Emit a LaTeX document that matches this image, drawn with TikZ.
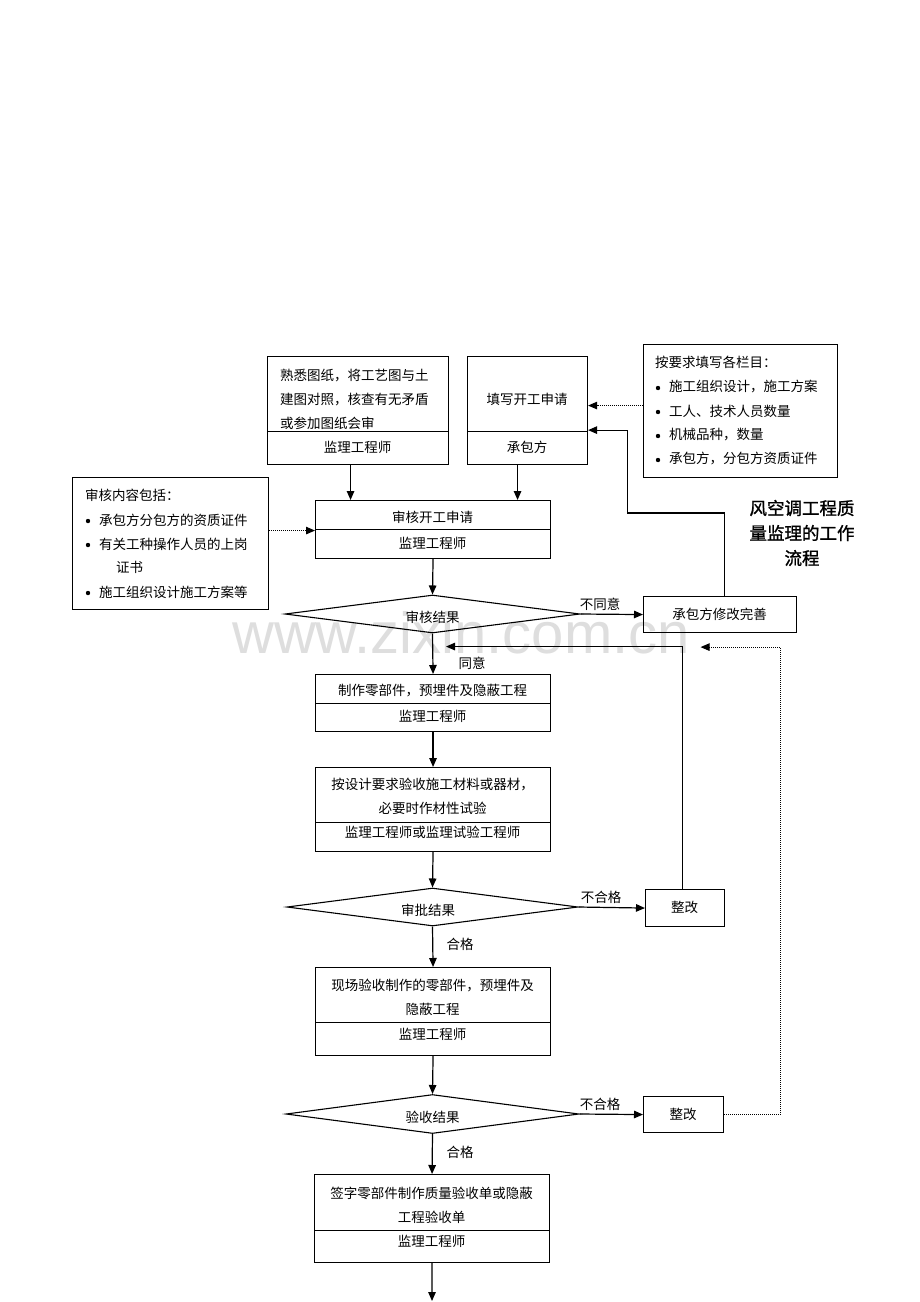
\documentclass[tikz,border=0pt]{standalone}
\usepackage{fontspec}
\setmainfont{Noto Sans CJK SC}
\newfontfamily\titlefont[FakeBold=1.2]{Noto Sans CJK SC}
\newfontfamily\wmfont{Liberation Sans}
\usetikzlibrary{arrows.meta,shapes.geometric}
\begin{document}
\begin{tikzpicture}[x=1pt,y=-1pt,
  box/.style={draw, line width=1.1pt, inner sep=0pt, anchor=north west},
  txt/.style={font=\fontsize{13.5}{24}\selectfont, inner sep=0pt},
  dec/.style={diamond, draw, line width=1.1pt, inner sep=0pt},
  arr/.style={line width=1.2pt, -{Triangle[length=9pt,width=7.5pt]}},
  dotarr/.style={line width=1pt, densely dotted, -{Triangle[length=9pt,width=7.5pt]}},
  bul/.style={fill, circle, inner sep=0pt, minimum size=4.4pt}]
\useasboundingbox (0,0) rectangle (920,1302);
\fill[white] (0,0) rectangle (920,1302);
% watermark
\node[text=black!13, font=\wmfont\fontsize{58}{58}\selectfont, inner sep=0pt] (wm) at (461,633) {www.zixin.com.cn};

% top boxes
\node[box, minimum width=181pt, minimum height=75pt] (b1) at (267,356) {};
\node[box, minimum width=181pt, minimum height=33pt] (b1s) at (267,431) {};
\node[txt, align=left, anchor=west] (b1t) at (280,399) {熟悉图纸，将工艺图与土\\建图对照，核查有无矛盾\\或参加图纸会审};
\node[txt] (b1l) at (357.5,447) {监理工程师};

\node[box, minimum width=120pt, minimum height=75pt] (b2) at (467,356) {};
\node[box, minimum width=120pt, minimum height=33pt] (b2s) at (467,431) {};
\node[txt] (b2t) at (527,399) {填写开工申请};
\node[txt] (b2l) at (527,447) {承包方};

% right note box
\node[box, minimum width=194pt, minimum height=133pt] (rb) at (643,344) {};
\node[txt, anchor=west] (rb0) at (655,362) {按要求填写各栏目：};
\node[bul] (rbb1) at (658,388) {};
\node[txt, anchor=west] (rb1) at (669,387) {施工组织设计，施工方案};
\node[bul] (rbb2) at (658,412) {};
\node[txt, anchor=west] (rb2) at (669,411) {工人、技术人员数量};
\node[bul] (rbb3) at (658,436) {};
\node[txt, anchor=west] (rb3) at (669,435) {机械品种，数量};
\node[bul] (rbb4) at (658,460) {};
\node[txt, anchor=west] (rb4) at (669,459) {承包方，分包方资质证件};

% left note box
\node[box, minimum width=196pt, minimum height=132pt] (lb) at (72,477) {};
\node[txt, anchor=west] (lb0) at (85,495) {审核内容包括：};
\node[bul] (lbb1) at (88,521) {};
\node[txt, anchor=west] (lb1) at (99,520) {承包方分包方的资质证件};
\node[bul] (lbb2) at (88,545) {};
\node[txt, anchor=west] (lb2) at (99,544) {有关工种操作人员的上岗};
\node[txt, anchor=west] (lb2b) at (116,567) {证书};
\node[bul] (lbb3) at (88,593) {};
\node[txt, anchor=west] (lb3) at (99,592) {施工组织设计施工方案等};

% title
\node[font=\titlefont\fontsize{17.5}{25}\selectfont, align=center, inner sep=0pt] (title) at (802,533) {风空调工程质\\量监理的工作\\流程};

% c1
\node[box, minimum width=235pt, minimum height=29pt] (c1) at (315,500) {};
\node[box, minimum width=235pt, minimum height=29pt] (c1s) at (315,529) {};
\node[txt] (c1t) at (432.5,517) {审核开工申请};
\node[txt] (c1l) at (432.5,543) {监理工程师};

% d1
\node[dec, minimum width=295pt, minimum height=38pt] (d1) at (432.5,614) {};
\node[txt] (d1t) at (432.5,617) {审核结果};
\node[box, minimum width=153pt, minimum height=36pt] (m1) at (643,596) {};
\node[txt] (m1t) at (719.5,614) {承包方修改完善};
\node[txt] (l1) at (600,604) {不同意};
\node[txt] (l2) at (472,663) {同意};

% c2
\node[box, minimum width=235pt, minimum height=29pt] (c2) at (315,674) {};
\node[box, minimum width=235pt, minimum height=28pt] (c2s) at (315,703) {};
\node[txt] (c2t) at (432.5,691) {制作零部件，预埋件及隐蔽工程};
\node[txt] (c2l) at (432.5,716) {监理工程师};

% c3
\node[box, minimum width=235pt, minimum height=55pt] (c3) at (315,767) {};
\node[box, minimum width=235pt, minimum height=29pt] (c3s) at (315,822) {};
\node[txt, align=center] (c3t) at (432.5,796) {按设计要求验收施工材料或器材，\\必要时作材性试验};
\node[txt] (c3l) at (432.5,832) {监理工程师或监理试验工程师};

% d2
\node[dec, minimum width=291pt, minimum height=38pt] (d2) at (432.5,907) {};
\node[txt] (d2t) at (428,910) {审批结果};
\node[box, minimum width=79pt, minimum height=37pt] (z1) at (645,889) {};
\node[txt] (z1t) at (684.5,907) {整改};
\node[txt] (l3) at (601,897) {不合格};
\node[txt] (l4) at (460,944) {合格};

% c4
\node[box, minimum width=235pt, minimum height=55pt] (c4) at (315,967) {};
\node[box, minimum width=235pt, minimum height=33pt] (c4s) at (315,1022) {};
\node[txt, align=center] (c4t) at (432.5,997.5) {现场验收制作的零部件，预埋件及\\隐蔽工程};
\node[txt] (c4l) at (432.5,1034) {监理工程师};

% d3
\node[dec, minimum width=293pt, minimum height=39pt] (d3) at (432.5,1114) {};
\node[txt] (d3t) at (432.5,1117) {验收结果};
\node[box, minimum width=80pt, minimum height=36pt] (z2) at (643,1096) {};
\node[txt] (z2t) at (683,1114) {整改};
\node[txt] (l5) at (600,1104) {不合格};
\node[txt] (l6) at (460,1152) {合格};

% c5
\node[box, minimum width=235pt, minimum height=56pt] (c5) at (314,1174) {};
\node[box, minimum width=235pt, minimum height=32pt] (c5s) at (314,1230) {};
\node[txt, align=center] (c5t) at (431.5,1205) {签字零部件制作质量验收单或隐蔽\\工程验收单};
\node[txt] (c5l) at (431.5,1241) {监理工程师};
\coordinate (end) at (432,1301);

% connectors
\draw[arr] ([xshift=-7.5pt]b1s.south) -- ([xshift=-7.5pt]b1s.south |- c1.north);
\draw[arr] ([xshift=-10pt]b2s.south) -- ([xshift=-10pt]b2s.south |- c1.north);
\draw[dotarr] ([yshift=5.5pt]rb.west) -- ([yshift=5.5pt]rb.west -| b2.east);
\draw[dotarr] ([yshift=13pt]lb.east) -- ([yshift=13pt]lb.east -| c1.west);
\draw[arr] (c1s.south) -- (d1.north);
\draw[arr] (d1.east) -- (m1.west);
\draw[arr] ([xshift=4.5pt]m1.north) -- ++(0,-83) -- ++(-97,0) |- ([yshift=2pt]b2.south east);
\draw[arr] (d1.south) -- (c2.north);
\draw[arr] (c2s.south) -- (c3.north);
\draw[arr] (c3s.south) -- (d2.north);
\draw[arr] (d2.east) -- (z1.west);
\draw[arr] ([xshift=-2.5pt]z1.north) |- ([xshift=13.5pt,yshift=-13pt]d1.south);
\draw[arr] (d2.south) -- (c4.north);
\draw[arr] (c4s.south) -- (d3.north);
\draw[arr] (d3.east) -- (z2.west);
\draw[dotarr] (z2.east) -- ++(56,0) |- ([xshift=-19.5pt,yshift=-14pt]m1.south);
\draw[arr] (d3.south) -- (c5.north);
\draw[arr] (c5s.south) -- (end);
\end{tikzpicture}
\end{document}
